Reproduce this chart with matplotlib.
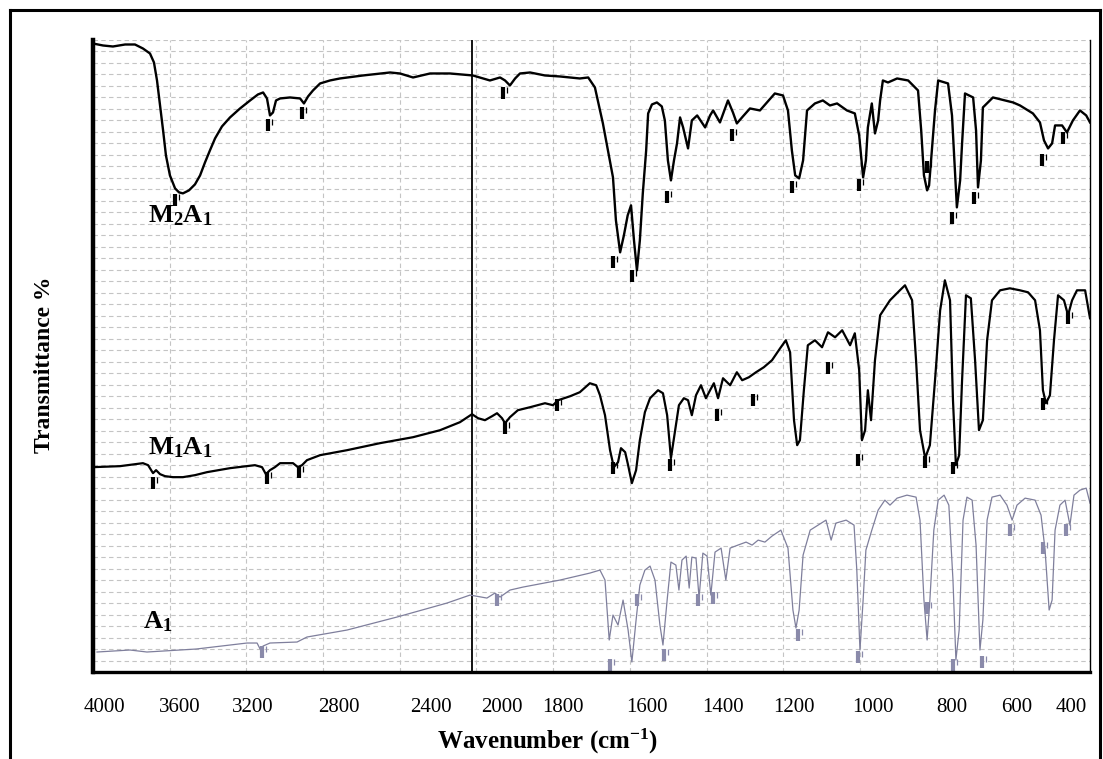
import numpy as np
import matplotlib
matplotlib.use("Agg")
import matplotlib.pyplot as plt
from matplotlib.lines import Line2D
from matplotlib.transforms import offset_copy

plt.rcParams['font.family'] = ['Liberation Serif', 'DejaVu Serif']
plt.rcParams['mathtext.fontset'] = 'custom'
plt.rcParams['mathtext.rm'] = 'Liberation Serif:bold'
plt.rcParams['mathtext.it'] = 'Liberation Serif:bold'
plt.rcParams['mathtext.bf'] = 'Liberation Serif:bold'

# x axis: tick labels of the figure
tick_wn = [4000, 3600, 3200, 2800, 2400, 2000, 1800, 1600, 1400, 1200, 1000, 800, 600, 400]

# M2A1 spectrum (wavenumber, transmittance a.u. with offset)
m2_wn = [4058, 4005, 3953, 3889, 3837, 3795, 3758, 3737, 3721, 3705, 3689, 3674, 3653, 3626, 3605,
         3584, 3551, 3518, 3490, 3463, 3436, 3408, 3370, 3326, 3271, 3216, 3177, 3153, 3135, 3121,
         3107, 3093, 3074, 3028, 2981, 2963, 2944, 2921, 2888, 2842, 2796, 2696, 2578, 2535, 2478,
         2404, 2293, 2164, 2068, 2011, 1990, 1974, 1957, 1941, 1908, 1859, 1810, 1760, 1740, 1724,
         1705, 1693, 1681, 1674, 1664, 1655, 1646, 1638, 1631, 1624, 1617, 1610, 1602, 1597, 1587,
         1574, 1561, 1553, 1545, 1537, 1529, 1521, 1513, 1505, 1492, 1482, 1468, 1447, 1434, 1426,
         1408, 1386, 1372, 1361, 1344, 1324, 1296, 1254, 1231, 1217, 1206, 1197, 1187, 1177, 1167,
         1147, 1127, 1109, 1091, 1066, 1046, 1035, 1025, 1018, 1013, 1003, 995, 987, 982, 975,
         962, 939, 911, 886, 878, 871, 863, 858, 851, 843, 835, 810, 800, 791, 785,
         775, 769, 760, 735, 726, 720, 711, 705, 674, 612, 589, 541, 515, 500, 485,
         470, 459, 433, 415, 393, 367, 344, 330]
m2_t = [629, 627, 626, 628, 628, 624, 619, 610, 592, 567, 542, 517, 497, 484, 480,
        479, 482, 488, 497, 510, 522, 534, 546, 555, 564, 572, 578, 580, 574, 557,
        560, 572, 574, 575, 574, 569, 576, 582, 589, 592, 594, 597, 600, 599, 595,
        599, 599, 597, 592, 595, 592, 587, 594, 599, 600, 597, 596, 594, 595, 585,
        549, 522, 495, 452, 420, 437, 457, 467, 432, 402, 432, 479, 522, 559, 568,
        570, 566, 552, 512, 492, 512, 529, 555, 545, 524, 552, 557, 545, 557, 562,
        550, 572, 560, 549, 556, 564, 562, 579, 577, 562, 522, 497, 494, 512, 562,
        569, 572, 567, 569, 562, 559, 537, 495, 512, 545, 569, 539, 552, 572, 592,
        590, 594, 592, 582, 542, 497, 482, 487, 522, 562, 592, 589, 557, 502, 465,
        492, 529, 579, 575, 542, 485, 512, 565, 575, 570, 567, 559, 550, 532, 524,
        529, 547, 547, 540, 552, 562, 557, 550]

# M1A1 spectrum
m1_wn = [4058, 3916, 3795, 3768, 3742, 3726, 3705, 3679, 3637, 3584, 3518, 3452, 3326, 3191, 3158,
         3140, 3121, 3098, 3074, 3014, 2991, 2972, 2949, 2888, 2765, 2622, 2478, 2349, 2237, 2169,
         2135, 2096, 2056, 2028, 2000, 1990, 1974, 1948, 1908, 1859, 1833, 1816, 1783, 1760, 1736,
         1721, 1712, 1700, 1688, 1679, 1669, 1662, 1652, 1645, 1636, 1626, 1617, 1605, 1592, 1571,
         1558, 1547, 1537, 1526, 1516, 1503, 1492, 1482, 1471, 1458, 1445, 1434, 1424, 1413, 1400,
         1380, 1361, 1346, 1327, 1307, 1285, 1262, 1239, 1223, 1211, 1200, 1192, 1185, 1175, 1165,
         1147, 1129, 1114, 1096, 1078, 1058, 1046, 1035, 1028, 1020, 1013, 1005, 995, 982, 957,
         932, 919, 901, 891, 881, 868, 856, 843, 830, 818, 805, 797, 788, 778, 769,
         757, 742, 729, 717, 705, 692, 677, 652, 622, 589, 559, 533, 515, 504, 493,
         478, 463, 448, 426, 411, 396, 378, 348, 330]
m1_t = [205, 206, 209, 207, 199, 202, 198, 196, 195, 195, 197, 200, 204, 207, 205,
        198, 202, 205, 209, 209, 205, 207, 212, 217, 222, 229, 235, 242, 250, 258,
        254, 252, 256, 259, 254, 249, 255, 262, 265, 269, 267, 272, 276, 280, 289,
        287, 277, 257, 222, 205, 210, 224, 220, 207, 189, 202, 232, 260, 274, 282,
        279, 257, 214, 242, 267, 274, 272, 257, 277, 287, 274, 282, 289, 274, 294,
        287, 300, 292, 295, 300, 305, 312, 324, 332, 320, 252, 227, 232, 282, 327,
        332, 325, 340, 335, 342, 327, 339, 302, 232, 242, 282, 252, 312, 357, 372,
        382, 387, 372, 312, 242, 214, 227, 292, 362, 392, 372, 272, 207, 217, 292,
        377, 374, 312, 242, 252, 332, 372, 382, 384, 382, 380, 372, 342, 282, 269,
        277, 332, 377, 372, 357, 372, 382, 382, 354]

# A1 spectrum
a1_wn = [4037, 3863, 3774, 3511, 3233, 3181, 3167, 3153, 3121, 2995, 2949, 2765, 2548, 2310, 2180,
         2085, 2040, 2011, 1974, 1931, 1810, 1736, 1712, 1700, 1690, 1681, 1669, 1657, 1645, 1636,
         1626, 1617, 1605, 1592, 1579, 1566, 1558, 1547, 1537, 1524, 1516, 1508, 1497, 1489, 1482,
         1471, 1463, 1453, 1442, 1432, 1421, 1405, 1392, 1380, 1358, 1335, 1318, 1301, 1282, 1262,
         1237, 1217, 1203, 1195, 1187, 1177, 1159, 1139, 1119, 1106, 1094, 1068, 1048, 1041, 1033,
         1025, 1018, 1003, 987, 970, 957, 939, 914, 891, 881, 871, 863, 856, 846, 835,
         820, 808, 797, 788, 778, 766, 754, 738, 726, 714, 705, 692, 677, 652, 631,
         615, 600, 570, 533, 511, 496, 481, 470, 459, 441, 422, 404, 389, 367, 344, 330]
a1_t = [20, 22, 20, 23, 29, 29, 23, 26, 29, 30, 35, 42, 55, 69, 77,
        74, 79, 75, 82, 85, 92, 99, 102, 92, 32, 57, 47, 72, 42, 10,
        52, 87, 102, 106, 92, 47, 27, 72, 110, 107, 82, 112, 116, 84, 115,
        114, 74, 119, 116, 77, 120, 124, 92, 124, 127, 130, 127, 132, 130, 136,
        142, 124, 62, 44, 62, 117, 142, 147, 152, 132, 149, 152, 147, 102, 22,
        72, 122, 142, 162, 172, 167, 174, 177, 175, 152, 72, 32, 72, 142, 172,
        177, 167, 92, 12, 42, 152, 175, 172, 127, 22, 52, 152, 175, 177, 167,
        152, 167, 174, 172, 157, 122, 62, 72, 142, 167, 172, 147, 177, 182, 184, 169]

# peak markers
m2_pk_wn = [3626, 3130, 2972, 1997, 1681, 1636, 1547, 1375, 1206, 1035, 863, 800, 732, 507, 430]
m2_pk_t = [472, 547, 559, 579, 410, 396, 475, 537, 485, 487, 505, 454, 474, 512, 534]
m1_pk_wn = [3742, 3135, 2986, 1990, 1819, 1681, 1540, 1416, 1316, 1114, 1038, 868, 797, 504, 411]
m1_pk_t = [189, 194, 200, 244, 267, 204, 207, 257, 272, 304, 212, 210, 204, 268, 354]
a1_pk_wn = [3158, 2028, 1688, 1624, 1555, 1466, 1426, 1190, 1038, 863, 797, 708, 622, 504, 419]
a1_pk_t = [20, 72, 7, 72, 17, 72, 74, 37, 15, 64, 7, 10, 142, 124, 142]

# piecewise scale so that tick labels sit where the original composite put them
scale_wn = [4058] + tick_wn + [330]
scale_pos = [93, 104, 180, 253, 339, 431, 502, 563, 647, 723, 794, 873, 952, 1017, 1071, 1090]
wn_asc = np.array(scale_wn[::-1], dtype=float)
pos_asc = -np.array(scale_pos[::-1], dtype=float)


def fwd(x):
    return np.interp(x, wn_asc, pos_asc)


def inv(x):
    return np.interp(x, pos_asc, wn_asc)


fig = plt.figure(figsize=(11.03, 7.59), dpi=100)
ax = fig.add_axes([93 / 1103, 87 / 759, 997 / 1103, 632 / 759])
ax.set_xscale('function', functions=(fwd, inv))
ax.set_xlim(4058, 330)
ax.set_ylim(0, 632)

# grid
ax.set_yticks(np.arange(0, 633, 11.5))
ax.set_yticklabels([])
ax.tick_params(axis='y', length=0)
ax.yaxis.grid(True, color='#c4c4c4', linestyle=(0, (4, 3)), linewidth=0.8)
for k in range(1, 13):
    ax.plot([k / 13, k / 13], [0, 1], transform=ax.transAxes, color='#c4c4c4',
            linestyle=(0, (4, 3)), linewidth=0.8, zorder=0.5)
ax.set_axisbelow(True)

ax.axvline(2170, color='black', linewidth=1.3)

ax.plot(m2_wn, m2_t, color='black', linewidth=1.7)
ax.plot(m1_wn, m1_t, color='black', linewidth=1.6)
ax.plot(a1_wn, a1_t, color='#7f7f9c', linewidth=0.9)

# peak-pick marks: a thick bar with a small tick beside it
tick_tr = offset_copy(ax.transData, fig=fig, x=4, y=3, units='dots')
for pw, pt, col in [(m2_pk_wn, m2_pk_t, 'black'), (m1_pk_wn, m1_pk_t, 'black'),
                    (a1_pk_wn, a1_pk_t, '#8a8aaa')]:
    ax.plot(pw, pt, linestyle='none', marker='|', markersize=8, markeredgewidth=3, color=col)
    ax.plot(pw, pt, linestyle='none', marker='|', markersize=4, markeredgewidth=0.9, color=col,
            transform=tick_tr)

ax.text(3600, 457, r'$\mathrm{M_2A_1}$', fontsize=19, ha='center', va='center')
ax.text(3600, 224, r'$\mathrm{M_1A_1}$', fontsize=19, ha='center', va='center')
ax.text(3716, 50, r'$\mathrm{A_1}$', fontsize=19, ha='center', va='center')

ax.set_xticks(tick_wn)
ax.set_xticklabels([str(t) for t in tick_wn], fontsize=15)
ax.tick_params(axis='x', length=0, pad=19)
ax.minorticks_off()

ax.set_xlabel('Wavenumber (cm$^{-1}$)', fontsize=18, fontweight='bold')
ax.xaxis.set_label_coords(0.456, -0.087)
ax.set_ylabel('Transmittance %', fontsize=17, fontweight='bold')
ax.yaxis.set_label_coords(-0.038, 0.486)

ax.spines['top'].set_visible(False)
ax.spines['left'].set_linewidth(3.2)
ax.spines['bottom'].set_linewidth(2.4)
ax.spines['right'].set_linewidth(1.0)

# outer frame
for xs, ys in [([10 / 1103, 10 / 1103], [0, 1 - 10 / 759]),
               ([10 / 1103, 1100 / 1103], [1 - 10 / 759, 1 - 10 / 759]),
               ([1100 / 1103, 1100 / 1103], [0, 1 - 10 / 759])]:
    fig.add_artist(Line2D(xs, ys, color='black', linewidth=2.2))

fig.savefig('out.png', dpi=100)
